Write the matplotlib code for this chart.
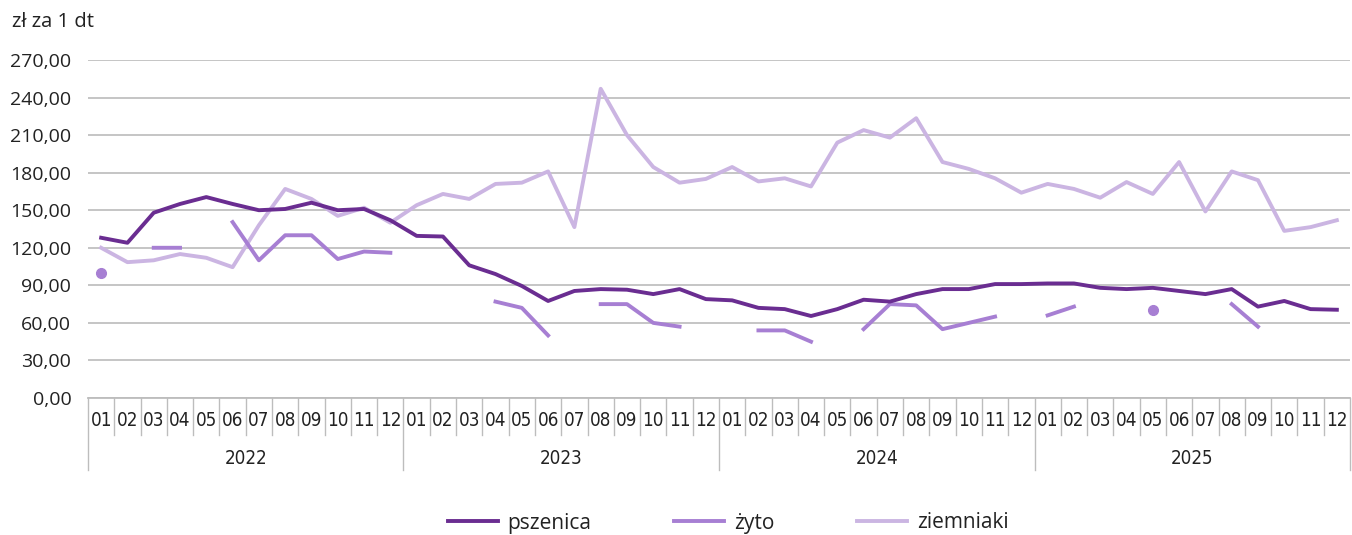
import numpy as np
import matplotlib
matplotlib.use("Agg")
import matplotlib.pyplot as plt
from matplotlib import font_manager as fm
from matplotlib.transforms import blended_transform_factory

nan = np.nan
years = ["2022", "2023", "2024", "2025"]
months = ["01", "02", "03", "04", "05", "06", "07", "08", "09", "10", "11", "12"]

pszenica = [128, 124, 148, 155, 160.5, 155, 150, 151, 156, 150, 151, 142,
            129.5, 129, 106, 99, 89.5, 77.5, 85.5, 87, 86.5, 83, 87, 79,
            78, 72, 71, 65.5, 71, 78.5, 77, 83, 87, 87, 91, 91,
            91.5, 91.5, 88, 87, 88, 85.5, 83, 87, 73, 77.5, 71, 70.5]
zyto = [100, nan, 120, 120, nan, 140.5, 110, 130, 130, 111, 117, 116,
        nan, nan, nan, 77, 72, 50, nan, 75, 75, 60, 57, nan,
        nan, 54, 54, 45, nan, 55, 75, 74, 55, 60, 65, nan,
        66, 73, nan, nan, 70, nan, nan, 75, 57, nan, nan, nan]
ziemniaki = [120, 108.5, 110, 115, 112, 104.5, 138, 167, 159, 145.5, 152, 140,
             154, 163, 159, 171, 172, 181, 136.5, 247, 210, 184.5, 172, 175,
             184.5, 173, 175.5, 169, 204, 214, 208, 223.5, 188.5, 183, 175.5, 164,
             171, 167, 160, 172.5, 163, 188.5, 149, 181, 174, 133.5, 136.5, 142]

c_psz = "#6a2d91"
c_zyto = "#a77fd3"
c_ziem = "#cbb5e2"

narrow_fp = None
for f in fm.fontManager.ttflist:
    if f.name == "Liberation Sans Narrow" and f.weight in (400, "normal", "regular") and f.style == "normal":
        narrow_fp = fm.FontProperties(fname=f.fname, size=15.5)
        break
if narrow_fp is None:
    for f in fm.fontManager.ttflist:
        if f.name == "DejaVu Sans" and f.stretch == "condensed" and f.style == "normal" \
                and f.weight in (400, "normal", "regular"):
            narrow_fp = fm.FontProperties(fname=f.fname, size=13.5)
            break
if narrow_fp is None:
    narrow_fp = fm.FontProperties(family="Roboto", size=14.3)

W, H = 1352, 535
fig = plt.figure(figsize=(W / 100, H / 100), dpi=100)
ax = fig.add_axes([88 / W, 1 - 398 / H, (1350 - 88) / W, (398 - 60) / H])

n = len(pszenica)
x = np.arange(n)
lw = 2.8
ax.plot(x, ziemniaki, color=c_ziem, lw=lw, label="ziemniaki", zorder=3)
ax.plot(x, zyto, color=c_zyto, lw=lw, label="żyto", zorder=4)
ax.plot(x, pszenica, color=c_psz, lw=lw, label="pszenica", zorder=5)

z = np.array(zyto, dtype=float)
for i in range(n):
    if not np.isnan(z[i]):
        prev_nan = i == 0 or np.isnan(z[i - 1])
        next_nan = i == n - 1 or np.isnan(z[i + 1])
        if prev_nan and next_nan:
            ax.plot(x[i], z[i], "o", color=c_zyto, ms=7, zorder=4)

ax.set_ylim(0, 270)
ax.set_xlim(-0.5, n - 0.5)
yt = np.arange(0, 271, 30)
ax.set_yticks(yt)
ax.set_yticklabels([f"{v:.2f}".replace(".", ",") for v in yt],
                   fontsize=14, color="#222222", family="Open Sans")
ax.tick_params(axis="y", length=0, pad=12)
ax.grid(axis="y", color="#c0c0c0", lw=1.3)
ax.set_axisbelow(True)
for s in ["top", "right", "left"]:
    ax.spines[s].set_visible(False)
ax.spines["bottom"].set_color("#bdbdbd")
ax.spines["bottom"].set_linewidth(1.3)

ax.set_xticks(x)
ax.set_xticklabels(months * len(years), fontproperties=narrow_fp, color="#222222")
ax.tick_params(axis="x", length=0, pad=9)

tr = blended_transform_factory(ax.transData, ax.transAxes)
px = 1.0 / (398 - 60)
for b in np.arange(-0.5, n, 1.0):
    k = int(round(b + 0.5))
    if k % 12 == 0:
        y0 = -(470 - 398) * px
    else:
        y0 = -(435 - 398) * px
    ax.plot([b, b], [0, y0], color="#bdbdbd", lw=1.0, transform=tr, clip_on=False)
for j, yr in enumerate(years):
    ax.text(j * 12 + 5.5, -(458 - 398) * px, yr, transform=tr, ha="center", va="center",
            fontproperties=narrow_fp, color="#222222")

fig.text(12 / W, 1 - 22 / H, "zł za 1 dt", fontsize=14.5, family="Open Sans",
         color="#222222", ha="left", va="center")

handles, labels = ax.get_legend_handles_labels()
order = [2, 1, 0]
leg = fig.legend([handles[i] for i in order], [labels[i] for i in order],
                 loc="center", bbox_to_anchor=(728 / W, 1 - 523 / H), ncol=3,
                 frameon=False, handlelength=2.4, handletextpad=0.45, columnspacing=4.0,
                 prop=dict(family="Open Sans", size=15))
for t in leg.get_texts():
    t.set_color("#222222")

fig.savefig("out.png", dpi=100, facecolor="white")
